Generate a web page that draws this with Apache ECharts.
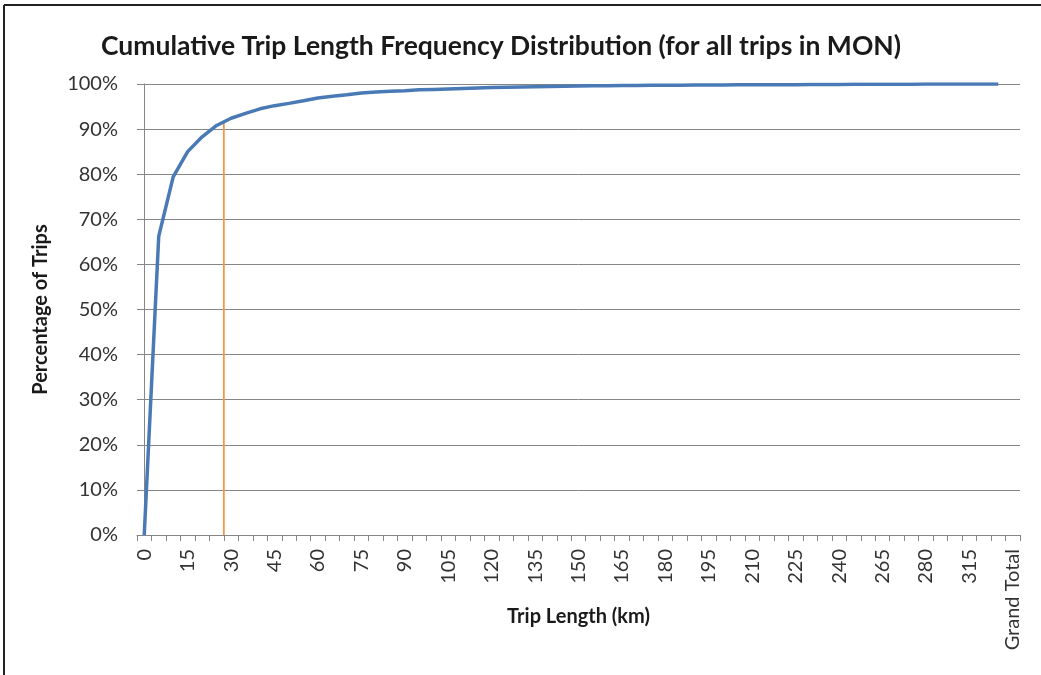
<!DOCTYPE html>
<html>
<head>
<meta charset="utf-8">
<title>Cumulative Trip Length Frequency Distribution</title>
<script src="https://cdn.jsdelivr.net/npm/echarts@6/dist/echarts.min.js"></script>
<style>
  html, body { margin: 0; padding: 0; background: #ffffff; }
  #chart { width: 1041px; height: 675px; }
</style>
</head>
<body>
<div id="chart"></div>
<script>
// Trip length bins (km) as they appear on the category axis
const tripLengths = [
  '0','5','10','15','20','25','30','35','40','45','50','55','60','65','70','75',
  '80','85','90','95','100','105','110','115','120','125','130','135','140','145',
  '150','155','160','165','170','175','180','185','190','195','200','205','210',
  '215','220','225','230','235','240','245','250','265','270','275','280','290',
  '300','315','320','330','Grand Total'
];

// Cumulative share of trips (%) up to each bin
const cumulativePct = [
  0, 66.2, 79.4, 85.0, 88.3, 90.8, 92.4, 93.5, 94.5, 95.2, 95.7, 96.3, 96.9, 97.3,
  97.6, 98.0, 98.2, 98.4, 98.5, 98.7, 98.8, 98.9, 99.0, 99.1, 99.2, 99.3, 99.35,
  99.4, 99.45, 99.5, 99.55, 99.6, 99.62, 99.65, 99.68, 99.7, 99.72, 99.74, 99.76,
  99.78, 99.8, 99.81, 99.82, 99.83, 99.85, 99.86, 99.87, 99.88, 99.9, 99.92,
  99.94, 99.95, 99.96, 99.97, 99.98, 99.98, 99.99, 99.99, 100, 100, null
];

// Y axis ticks (%)
const yTicks = [0, 10, 20, 30, 40, 50, 60, 70, 80, 90, 100];

// Reference line: trip length (km) and the cumulative share where it meets the curve
const refLengthKm = 27.5;
const refSharePct = 91.7;

// Position of the reference length along the category axis
function categoryPosition(km) {
  const nums = tripLengths.map(Number);
  for (let i = 0; i < nums.length - 1; i++) {
    if (km >= nums[i] && km <= nums[i + 1]) {
      return i + (km - nums[i]) / (nums[i + 1] - nums[i]);
    }
  }
  return 0;
}
const refPos = categoryPosition(refLengthKm);

const font = 'Lato, "Open Sans", sans-serif';
const chart = echarts.init(document.getElementById('chart'), null, { renderer: 'canvas' });

chart.setOption({
  animation: false,
  backgroundColor: '#ffffff',
  title: {
    text: 'Cumulative Trip Length Frequency Distribution (for all trips in MON)',
    left: 96,
    top: 28,
    textStyle: { fontFamily: font, fontSize: 26.5, fontWeight: 'bold', color: '#1a1a1a' }
  },
  graphic: [
    { type: 'line', shape: { x1: 4, y1: 5, x2: 1041, y2: 5 }, style: { stroke: '#222', lineWidth: 2 } },
    { type: 'line', shape: { x1: 4, y1: 5, x2: 4, y2: 675 }, style: { stroke: '#222', lineWidth: 2 } }
  ],
  grid: { left: 137, right: 21, top: 84, bottom: 140, containLabel: false },
  xAxis: [
    {
      type: 'category',
      data: tripLengths,
      boundaryGap: true,
      name: 'Trip Length (km)',
      nameLocation: 'middle',
      nameGap: 72,
      nameMoveOverlap: false,
      nameTextStyle: { fontFamily: font, fontSize: 20, fontWeight: 'bold', color: '#1a1a1a' },
      axisLine: { lineStyle: { color: '#868686', width: 1 } },
      axisTick: { show: true, interval: 0, length: 6, lineStyle: { color: '#868686' } },
      axisLabel: {
        interval: 2,
        rotate: 90,
        margin: 14,
        fontFamily: font,
        fontSize: 20,
        color: '#333'
      },
      splitLine: { show: false }
    },
    {
      type: 'value',
      min: -0.5,
      max: tripLengths.length - 0.5,
      show: false
    }
  ],
  yAxis: {
    type: 'value',
    min: 0,
    max: 100,
    interval: 10,
    name: 'Percentage of Trips',
    nameLocation: 'middle',
    nameGap: 86,
    nameMoveOverlap: false,
    nameTextStyle: { fontFamily: font, fontSize: 20, fontWeight: 'bold', color: '#1a1a1a' },
    axisLine: { show: true, lineStyle: { color: '#868686', width: 1 } },
    axisTick: { show: true, length: 6, lineStyle: { color: '#868686' } },
    axisLabel: {
      fontFamily: font,
      fontSize: 20,
      color: '#333',
      margin: 19,
      formatter: v => yTicks.includes(v) ? v + '%' : ''
    },
    splitLine: { show: true, lineStyle: { color: '#868686', width: 1 } }
  },
  series: [
    {
      name: 'Cumulative share',
      type: 'line',
      data: cumulativePct,
      xAxisIndex: 0,
      symbol: 'none',
      smooth: false,
      connectNulls: false,
      lineStyle: { color: '#4a7ab5', width: 3.5 },
      z: 3
    },
    {
      name: 'Reference length',
      type: 'line',
      xAxisIndex: 1,
      data: [[refPos, 0], [refPos, refSharePct]],
      symbol: 'none',
      lineStyle: { color: '#f79646', width: 1.8 },
      z: 2
    }
  ]
});
</script>
</body>
</html>
